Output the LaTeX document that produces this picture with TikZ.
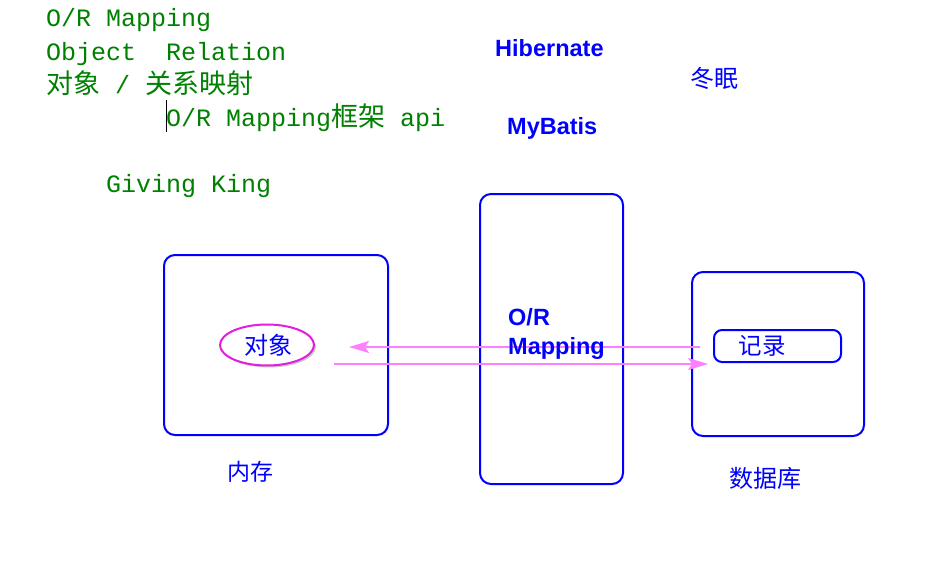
\documentclass[tikz,border=0pt]{standalone}
\usepackage{fontspec}
\usetikzlibrary{arrows.meta,shapes.geometric,shadows}
\newfontfamily\monofam{Liberation Mono}
\newfontfamily\cjkfam{Noto Sans CJK SC}
\newfontfamily\arialfam{Liberation Sans}
\definecolor{codegreen}{RGB}{0,128,0}
\definecolor{pureblue}{RGB}{0,0,255}
\definecolor{ellmag}{RGB}{225,30,225}
\definecolor{arrpink}{RGB}{255,128,255}
\newcommand{\monotext}{\monofam\fontsize{25}{30}\selectfont}
\newcommand{\cjkbig}{\cjkfam\fontsize{27}{30}\selectfont}
\newcommand{\cjkmid}{\cjkfam\fontsize{23.5}{28}\selectfont}
\newcommand{\boldsans}{\arialfam\bfseries\fontsize{23.5}{28}\selectfont}
\begin{document}
\begin{tikzpicture}[x=1pt,y=-1pt,
  greentext/.style={anchor=base west,inner sep=0pt,text=codegreen,font=\monotext},
  bluetext/.style={anchor=base west,inner sep=0pt,text=pureblue,font=\boldsans},
  cjklabel/.style={inner sep=0pt,text=pureblue,font=\cjkmid},
  bigbox/.style={draw=pureblue,line width=2pt,rounded corners=11pt,inner sep=0pt,fill=white},
  objell/.style={ellipse,draw=ellmag,line width=2pt,fill=white,inner sep=0pt,
    drop shadow={shadow xshift=2pt,shadow yshift=-2pt,fill=black!35,opacity=0.6}},
  maparrow/.style={draw=arrpink,line width=1.8pt,-{Stealth[length=20pt,width=12pt,inset=4pt]}}
]
\useasboundingbox (0,0) rectangle (950,586);

% top-left text
\node[greentext] (t1) at (46,27) {O/R Mapping};
\node[greentext] (t2) at (46,60) {Object\ \ Relation};
\node[greentext] (t3) at (46,93) {{\cjkbig 对象}\ /\ {\cjkbig 关系映射}};
\node[greentext] (t4) at (166,126) {O/R Mapping{\cjkbig 框架}\ api};
\node[greentext] (t5) at (106,192) {Giving King};
\coordinate (cur1) at (166,100);
\coordinate (cur2) at (166,132);
\draw[black,line width=1pt] (cur1) -- (cur2);

% framework names
\node[bluetext] (hib) at (495,57) {Hibernate};
\node[bluetext] (myb) at (507,134) {MyBatis};
\node[cjklabel,font=\cjkfam\fontsize{24}{28}\selectfont] (dm) at (714,78) {冬眠};

% boxes
\node[bigbox,minimum width=224pt,minimum height=180pt] (mem) at (276,345) {};
\node[bigbox,minimum width=143pt,minimum height=290pt] (orm) at (551.5,339) {};
\node[bigbox,minimum width=172pt,minimum height=164pt] (db) at (778,354) {};
\node[draw=pureblue,line width=2pt,rounded corners=8pt,inner sep=0pt,
  minimum width=127pt,minimum height=32pt] (rec) at (777.5,346) {};

% object ellipse
\node[objell,minimum width=94pt,minimum height=41pt] (obj) at (267,345) {};
\node[cjklabel,font=\cjkfam\fontsize{24}{28}\selectfont] (objt) at (268,345) {对象};

% arrows
\coordinate (a1s) at (700,347);
\coordinate (a1e) at (349,347);
\coordinate (a2s) at (334,364);
\coordinate (a2e) at (708,364);
\draw[maparrow] (a1s) -- (a1e);
\draw[maparrow] (a2s) -- (a2e);

% texts in boxes
\node[bluetext] (orm1) at (508,325) {O/R};
\node[bluetext] (orm2) at (508,354) {Mapping};
\node[cjklabel] (rect) at (762,346) {记录};
\node[cjklabel,font=\cjkfam\fontsize{23}{28}\selectfont] (memt) at (250,472) {内存};
\node[cjklabel,font=\cjkfam\fontsize{24}{28}\selectfont] (dbt) at (765,478) {数据库};
\end{tikzpicture}
\end{document}
